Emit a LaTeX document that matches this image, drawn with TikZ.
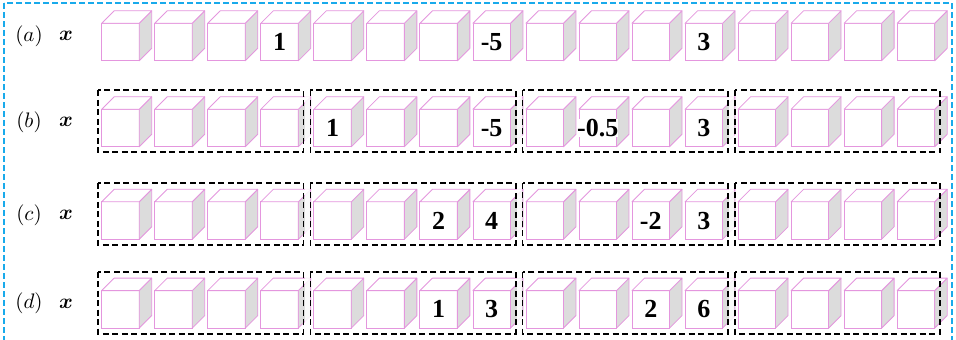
\documentclass[tikz,border=0pt]{standalone}
\usepackage{amsmath}
\usepackage{graphicx}
\usepackage{fontspec}
\newfontfamily\numfont{Liberation Serif}
\definecolor{cubepink}{RGB}{228,150,222}
\definecolor{sidegray}{RGB}{220,220,220}
\definecolor{framecyan}{RGB}{25,170,235}
\begin{document}
\begin{tikzpicture}[x=1pt,y=-1pt,
  front/.style={draw=cubepink,fill=white,line width=0.8pt,minimum width=37.5pt,minimum height=37.5pt,inner sep=0pt,outer sep=0pt,anchor=north west},
  cubeline/.style={draw=cubepink,line width=0.8pt,line join=round},
  numlab/.style={font=\numfont\bfseries\fontsize{26}{26}\selectfont,fill=white,inner sep=0pt},
  rowlab/.style={inner sep=0pt},
  grpbox/.style={draw=black,line width=1.8pt,dash pattern=on 6pt off 3.5pt},
  blueframe/.style={draw=framecyan,line width=1.6pt,dash pattern=on 6pt off 3pt}]
\useasboundingbox (0,0) rectangle (956,340);
\clip (0,0) rectangle (956,340);
% cubes
\foreach \r/\yy in {a/23.3,b/109.3,c/201.8,d/290.6}{
  \foreach \i in {0,...,15}{
    \pgfmathsetmacro\xx{101.7+53.03*\i}
    \node[front] (\r\i) at (\xx,\yy) {};
    \draw[cubeline,fill=sidegray] (\r\i.north east) -- ++(12.5,-12.5) -- ++(0,37.5) -- (\r\i.south east) -- cycle;
    \draw[cubeline,fill=white] (\r\i.north west) -- ++(12.5,-12.5) -- ++(37.5,0) -- (\r\i.north east) -- cycle;
  }
}
% row labels
\foreach \r/\yy in {a/23.3,b/109.3,c/201.8,d/290.6}{
  \node[rowlab] (lab\r) at (29,\yy+13) {\scalebox{2.1}{$(\r)$}};
  \node[rowlab] (x\r) at (66,\yy+13) {\scalebox{2.1}{$\boldsymbol{x}$}};
}
% group boxes
\foreach \yy in {109.3,201.8,290.6}{
  \foreach \k in {0,1,2}{
    \fill[white,opacity=0.85] (304.5+212.1*\k,\yy-13.5) rectangle (309.5+212.1*\k,\yy+38.5);
  }
  \foreach \k in {0,1,2,3}{
    \draw[grpbox] (98.3+212.1*\k,\yy-19) rectangle (303.5+212.1*\k,\yy+43);
  }
}
% numbers
\foreach \r/\i/\t in {a/3/1,a/7/-5,a/11/3,
                      b/4/1,b/7/-5,b/9/-0.5,b/11/3,
                      c/6/2,c/7/4,c/10/-2,c/11/3,
                      d/6/1,d/7/3,d/10/2,d/11/6}{
  \node[numlab] (n\r\i) at (\r\i.center) {\t};
}
% outer frame
\draw[blueframe] (4,3) rectangle (952,360);
\end{tikzpicture}
\end{document}
